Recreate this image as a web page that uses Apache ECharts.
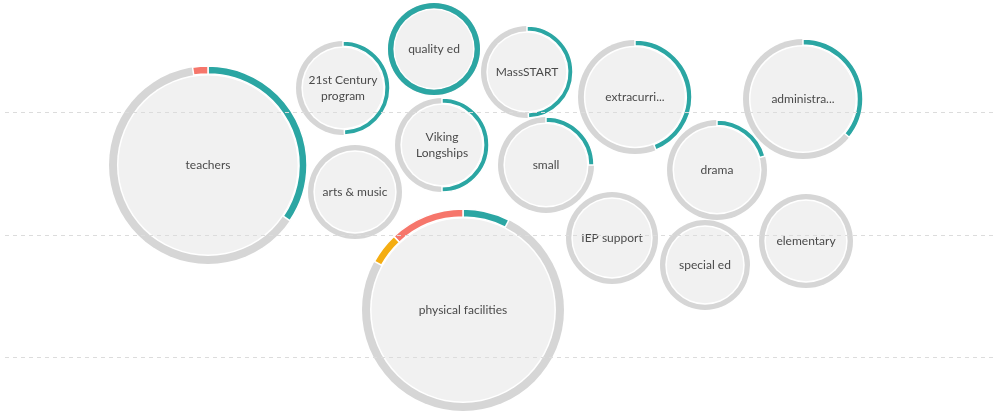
<!DOCTYPE html>
<html>
<head>
<meta charset="utf-8">
<script src="https://cdn.jsdelivr.net/npm/echarts@6/dist/echarts.min.js"></script>
<style>
  html, body { margin: 0; padding: 0; background: #fff; }
  #chart { width: 999px; height: 419px; }
</style>
</head>
<body>
<div id="chart"></div>
<script>
  // bubble topics, positions (chart units) and size
  var names = ['teachers', '21st Century\nprogram', 'quality ed', 'MassSTART', 'Viking\nLongships',
    'arts & music', 'small', 'extracurri...', 'drama', 'administra...',
    'IEP support', 'special ed', 'elementary', 'physical facilities']
  var xs = [208, 343, 434, 527, 442, 355, 546, 635, 717, 803, 612, 705, 806, 463]
  var ys = [165, 88, 49, 72, 145, 192, 165, 97, 170, 99, 238, 265, 241, 310]
  var sizes = [99, 47, 46, 46, 47, 47, 48, 57, 50, 60, 46, 45, 47, 101]
  // share of the ring (percent) per sentiment
  var positive = [34.5, 49.5, 100, 49.5, 50, 0, 25, 44, 20.5, 36, 0, 0, 0, 7.5]
  var mixed = [0, 0, 0, 0, 0, 0, 0, 0, 0, 0, 0, 0, 0, 5]
  var negative = [2.5, 0, 0, 0, 0, 0, 0, 0, 0, 0, 0, 0, 0, 12]
  // dashed guide rows
  var guides = [112, 235, 357]

  var colors = { pos: '#2ba6a3', mix: '#f4ad12', neg: '#f6766b', ring: '#d6d6d6', fill: '#f1f1f1' }

  var data = names.map(function (n, i) {
    return { name: n, value: [xs[i], ys[i], sizes[i], positive[i], mixed[i], negative[i]] }
  })

  var chart = echarts.init(document.getElementById('chart'))

  function renderBubble(params, api) {
    var c = api.coord([api.value(0), api.value(1)])
    var r = api.size([api.value(2), 0])[0]
    var pos = api.value(3), mix = api.value(4), neg = api.value(5)
    var ring = 3 + r * 0.05
    var top = -Math.PI / 2
    var full = Math.PI * 2
    var children = [
      { type: 'circle', shape: { cx: c[0], cy: c[1], r: r }, style: { fill: colors.ring } },
      { type: 'circle', shape: { cx: c[0], cy: c[1], r: r - ring }, style: { fill: '#fff' } },
      { type: 'circle', shape: { cx: c[0], cy: c[1], r: r - ring - 1.5 }, style: { fill: colors.fill } }
    ]
    function arc(from, to, color, share) {
      children.push({
        type: 'sector',
        shape: { cx: c[0], cy: c[1], r0: r - ring, r: r, startAngle: from, endAngle: to, clockwise: true },
        style: { fill: color, stroke: share >= 100 ? null : '#fff', lineWidth: share >= 100 ? 0 : 1.5 }
      })
    }
    if (pos > 0) arc(top, top + full * pos / 100, colors.pos, pos)
    var end = top + full
    if (neg > 0) arc(end - full * neg / 100, end, colors.neg, neg)
    if (mix > 0) arc(end - full * (neg + mix) / 100, end - full * neg / 100, colors.mix, mix)
    children.push({
      type: 'text',
      style: {
        text: data[params.dataIndex].name,
        x: c[0], y: c[1],
        align: 'center', verticalAlign: 'middle',
        fill: '#4a4a4a', fontSize: 12, fontFamily: 'Lato', lineHeight: 16
      }
    })
    return { type: 'group', children: children }
  }

  chart.setOption({
    animation: false,
    grid: { left: 5, right: 5, top: 0, bottom: 0 },
    xAxis: {
      type: 'value', min: 5, max: 994,
      axisLine: { show: false }, axisTick: { show: false },
      axisLabel: { show: false }, splitLine: { show: false }
    },
    yAxis: {
      type: 'value', inverse: true, min: 0, max: 419,
      axisLine: { show: false }, axisTick: { show: false }, axisLabel: { show: false },
      splitLine: { show: false }
    },
    series: [{
      type: 'line',
      data: [],
      silent: true,
      markLine: {
        silent: true,
        symbol: ['none', 'none'],
        label: { show: false },
        lineStyle: { color: '#dcdcdc', type: [4, 4], width: 1 },
        data: guides.map(function (g) { return { yAxis: g } })
      }
    }, {
      type: 'custom',
      renderItem: renderBubble,
      clip: false,
      data: data
    }]
  })
</script>
</body>
</html>
